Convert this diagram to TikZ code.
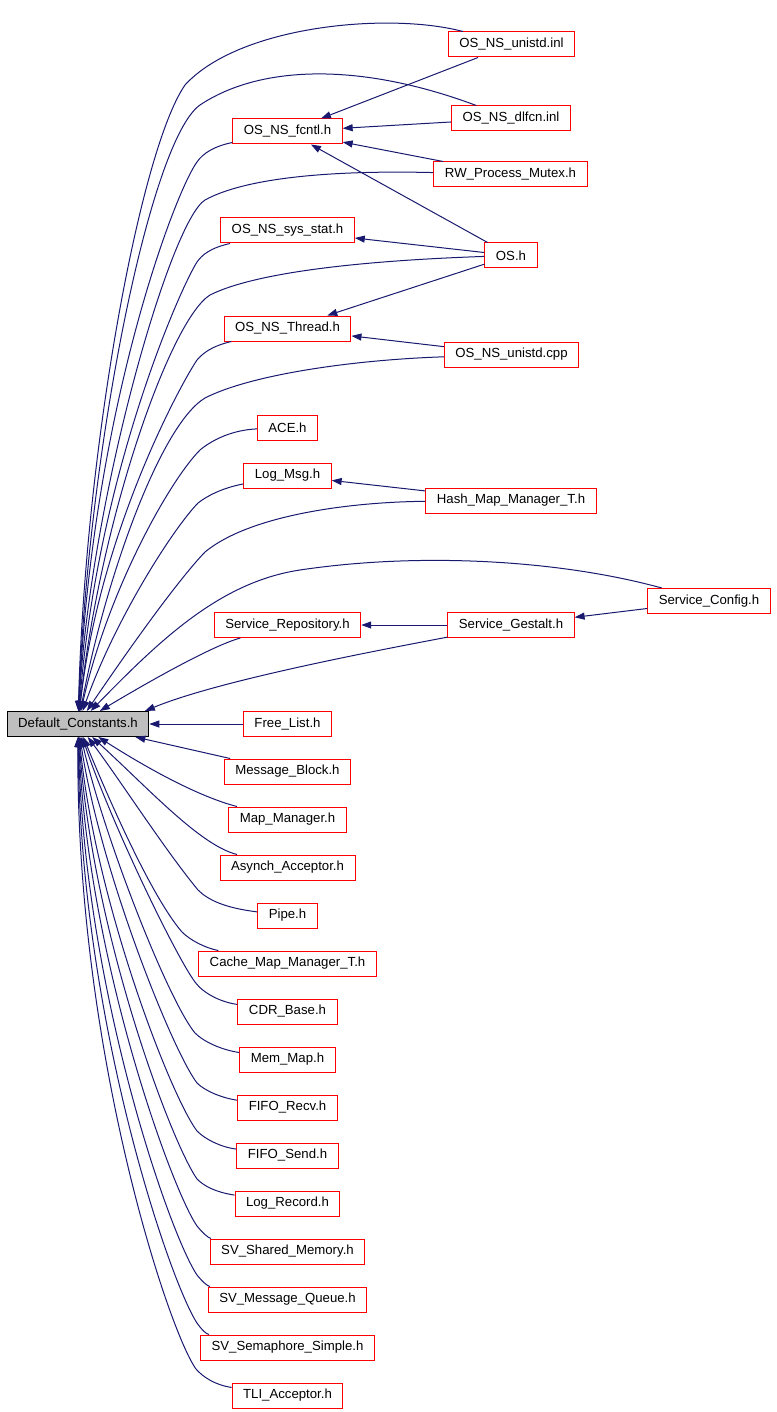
\documentclass[tikz,border=0pt]{standalone}
\usepackage{fontspec}
\setmainfont{Liberation Sans}
\usetikzlibrary{arrows.meta}
\definecolor{edgeblue}{RGB}{25,25,112}
\definecolor{graybox}{RGB}{191,191,191}
\tikzset{
  file/.style={draw=red, fill=white, line width=1pt, minimum height=25pt,
    inner xsep=11pt, inner ysep=0pt, font=\fontsize{13.2}{15}\selectfont},
  thisfile/.style={file, draw=black, fill=graybox},
  dep/.style={draw=edgeblue, line width=1pt, -{Triangle[length=10pt,width=7pt]}},
}
\begin{document}
\begin{tikzpicture}[x=1pt,y=-1pt]
    \useasboundingbox (0,0) rectangle (776,1412);
    % the file itself
    \node[thisfile] (dc)       at (78,724)     {Default\_Constants.h};
    % second column
    \node[file] (fcntl)    at (287.5,131.5)  {OS\_NS\_fcntl.h};
    \node[file] (sysstat)  at (287.5,230.5)  {OS\_NS\_sys\_stat.h};
    \node[file] (thread)   at (287.5,328.5)  {OS\_NS\_Thread.h};
    \node[file] (ace)      at (287.5,427.5)  {ACE.h};
    \node[file] (logmsg)   at (287.5,475.5)  {Log\_Msg.h};
    \node[file] (srepo)    at (287.5,625)    {Service\_Repository.h};
    \node[file] (freelist) at (287.5,724)    {Free\_List.h};
    \node[file] (msgblock) at (287.5,771.5)  {Message\_Block.h};
    \node[file] (mapmgr)   at (287.5,819.5)  {Map\_Manager.h};
    \node[file] (asynch)   at (287.5,867.5)  {Asynch\_Acceptor.h};
    \node[file] (pipe)     at (287.5,915.5)  {Pipe.h};
    \node[file] (cachemap) at (287.5,963.5)  {Cache\_Map\_Manager\_T.h};
    \node[file] (cdr)      at (287.5,1011.5) {CDR\_Base.h};
    \node[file] (memmap)   at (287.5,1059.5) {Mem\_Map.h};
    \node[file] (frecv)    at (287.5,1107.5) {FIFO\_Recv.h};
    \node[file] (fsend)    at (287.5,1155.5) {FIFO\_Send.h};
    \node[file] (logrec)   at (287.5,1203.5) {Log\_Record.h};
    \node[file] (svshm)    at (287.5,1251.5) {SV\_Shared\_Memory.h};
    \node[file] (svmq)     at (287.5,1299.5) {SV\_Message\_Queue.h};
    \node[file] (svsem)    at (287.5,1347.5) {SV\_Semaphore\_Simple.h};
    \node[file] (tli)      at (287.5,1395.5) {TLI\_Acceptor.h};
    % third column
    \node[file] (uinl)     at (511.5,44.5)   {OS\_NS\_unistd.inl};
    \node[file] (dlfcn)    at (511,118.5)    {OS\_NS\_dlfcn.inl};
    \node[file] (rwmutex)  at (510.5,174.5)  {RW\_Process\_Mutex.h};
    \node[file] (osh)      at (511,255.5)    {OS.h};
    \node[file] (ucpp)     at (511.5,354.5)  {OS\_NS\_unistd.cpp};
    \node[file] (hashmap)  at (511,500.5)    {Hash\_Map\_Manager\_T.h};
    \node[file] (sgestalt) at (511,625)      {Service\_Gestalt.h};
    % fourth column
    \node[file] (sconfig)  at (709,601)      {Service\_Config.h};

    % straight includes
    \draw[dep] (uinl)     -- (fcntl);
    \draw[dep] (dlfcn)    -- (fcntl);
    \draw[dep] (rwmutex)  -- (fcntl);
    \draw[dep] (osh)      -- (fcntl);
    \draw[dep] (osh)      -- (sysstat);
    \draw[dep] (osh)      -- (thread);
    \draw[dep] (ucpp)     -- (thread);
    \draw[dep] (hashmap)  -- (logmsg);
    \draw[dep] (sconfig)  -- (sgestalt);
    \draw[dep] (sgestalt) -- (srepo);
    \draw[dep] (freelist) -- (dc);
    \draw[dep] (msgblock) -- (dc);

    % long arcs from the third and fourth column
    \draw[dep] (uinl) .. controls (390,12) and (240,25) .. (185,85) .. controls (140,150) and (85,450) .. (dc);
    \draw[dep] (dlfcn) .. controls (360,62) and (260,65) .. (200,105) .. controls (150,140) and (88,450) .. (dc);
    \draw[dep] (rwmutex) .. controls (330,170) and (245,178) .. (205,200) .. controls (170,222) and (90,500) .. (dc);
    \draw[dep] (osh) .. controls (380,260) and (260,270) .. (210,295) .. controls (170,320) and (100,520) .. (dc);
    \draw[dep] (ucpp) .. controls (350,360) and (250,375) .. (205,398) .. controls (160,425) and (105,580) .. (dc);
    \draw[dep] (hashmap) .. controls (350,502) and (250,515) .. (205,552) .. controls (180,578) and (135,640) .. (dc);
    \draw[dep] (sconfig) .. controls (560,560) and (420,552) .. (300,570) .. controls (220,582) and (160,640) .. (dc);
    \draw[dep] (sgestalt) .. controls (380,650) and (220,680) .. (dc.11);

    % second column, above
    \draw[dep] (fcntl) .. controls (215,146) and (203,153) .. (197,162) .. controls (175,192) and (92,410) .. (dc);
    \draw[dep] (sysstat) .. controls (210,248) and (202,255) .. (197,262) .. controls (182,285) and (98,470) .. (dc);
    \draw[dep] (thread) .. controls (212,346) and (203,353) .. (197,360) .. controls (182,382) and (100,530) .. (dc);
    \draw[dep] (ace) .. controls (232,430) and (212,440) .. (200,450) .. controls (170,480) and (108,590) .. (dc);
    \draw[dep] (logmsg) .. controls (222,488) and (207,496) .. (198,503) .. controls (172,530) and (115,620) .. (dc);
    \draw[dep] (srepo) .. controls (215,645) and (160,675) .. (dc);

    % second column, below
    \draw[dep] (mapmgr) .. controls (200,797) and (150,770) .. (dc);
    \draw[dep] (asynch) .. controls (200,845) and (150,790) .. (dc);
    \draw[dep] (pipe) .. controls (225,908) and (208,900) .. (198,890) .. controls (165,850) and (120,780) .. (dc);
    \draw[dep] (cachemap) .. controls (205,948) and (190,940) .. (182,932) .. controls (150,895) and (105,790) .. (dc);
    \draw[dep] (cdr) .. controls (220,1002) and (203,993) .. (195,982) .. controls (175,955) and (110,820) .. (dc);
    \draw[dep] (memmap) .. controls (222,1050) and (204,1042) .. (195,1033) .. controls (168,1000) and (105,840) .. (dc);
    \draw[dep] (frecv) .. controls (222,1098) and (205,1091) .. (197,1083) .. controls (172,1050) and (100,870) .. (dc);
    \draw[dep] (fsend) .. controls (220,1147) and (205,1139) .. (197,1131) .. controls (170,1095) and (95,900) .. (dc);
    \draw[dep] (logrec) .. controls (215,1192) and (204,1186) .. (197,1179) .. controls (170,1140) and (92,930) .. (dc);
    \draw[dep] (svshm) .. controls (208,1238) and (202,1232) .. (197,1226) .. controls (172,1190) and (88,960) .. (dc);
    \draw[dep] (svmq) .. controls (207,1286) and (202,1281) .. (197,1275) .. controls (170,1235) and (84,990) .. (dc);
    \draw[dep] (svsem) .. controls (206,1334) and (201,1329) .. (197,1323) .. controls (170,1282) and (80,1020) .. (dc);
    \draw[dep] (tli) .. controls (215,1385) and (203,1377) .. (196,1369) .. controls (168,1330) and (76,1050) .. (dc);
\end{tikzpicture}
\end{document}
